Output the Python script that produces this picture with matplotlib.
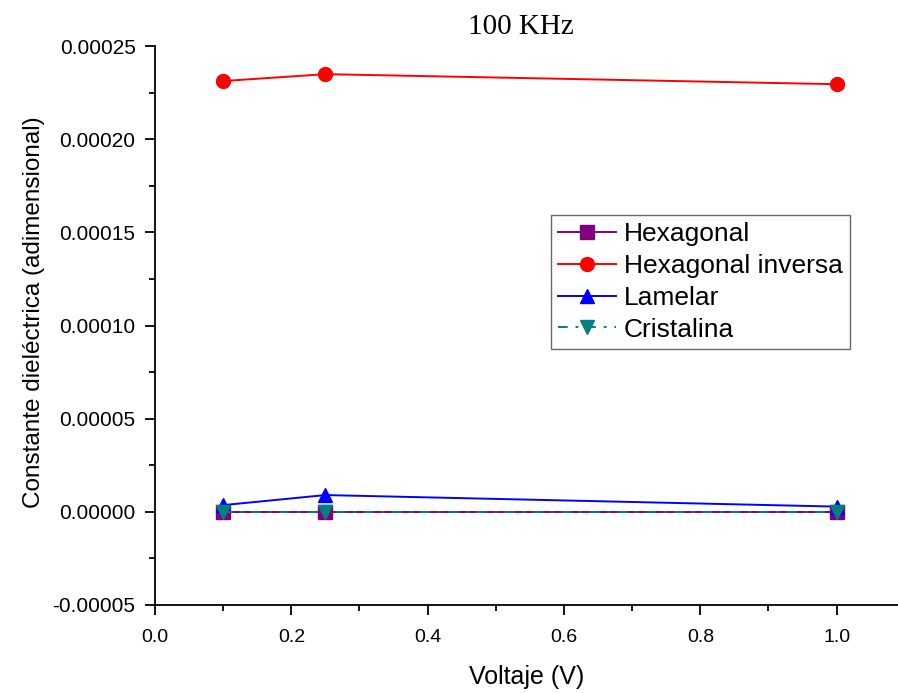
import matplotlib
matplotlib.use("Agg")
import matplotlib.pyplot as plt
from matplotlib.ticker import MultipleLocator, FormatStrFormatter

# Applied voltage (V)
voltaje = [0.1, 0.25, 1.0]

# Dielectric constant for each phase at 100 kHz
hexagonal = [0.0, 0.0, 0.0]
hexagonal_inversa = [0.0002312, 0.0002349, 0.0002295]
lamelar = [0.0000036, 0.0000090, 0.0000028]
cristalina = [0.0, 0.0, 0.0]

series_labels = ["Hexagonal", "Hexagonal inversa", "Lamelar", "Cristalina"]

plt.rcParams["font.family"] = ["Liberation Sans", "DejaVu Sans"]

fig = plt.figure(figsize=(8.98, 6.93), dpi=100)
ax = fig.add_axes([0.1726, 0.127, 0.8274, 0.8066])

lw = 1.4
ax.plot(voltaje, hexagonal, color="#800080", marker="s", markersize=10,
        linewidth=lw, label=series_labels[0], zorder=3)
ax.plot(voltaje, hexagonal_inversa, color="#ff0000", marker="o", markersize=10,
        linewidth=lw, label=series_labels[1], zorder=3)
ax.plot(voltaje, lamelar, color="#0000ff", marker="^", markersize=10,
        linewidth=lw, label=series_labels[2], zorder=3)
ax.plot(voltaje, cristalina, color="#008080", marker="v", markersize=10,
        linewidth=lw, linestyle=(0, (5, 4, 1.5, 4)), label=series_labels[3], zorder=4)

ax.set_xlim(0, 1.09)
ax.set_ylim(-0.00005, 0.00025)

ax.xaxis.set_major_locator(MultipleLocator(0.2))
ax.xaxis.set_minor_locator(MultipleLocator(0.1))
ax.xaxis.set_major_formatter(FormatStrFormatter("%.1f"))
ax.yaxis.set_major_locator(MultipleLocator(0.00005))
ax.yaxis.set_minor_locator(MultipleLocator(0.000025))
ax.yaxis.set_major_formatter(FormatStrFormatter("%.5f"))

for side in ("top", "right"):
    ax.spines[side].set_visible(False)
for side in ("left", "bottom"):
    ax.spines[side].set_linewidth(1.3)

ax.tick_params(which="major", direction="out", length=7, width=1.3)
ax.tick_params(which="minor", direction="out", length=4, width=1.3)
ax.tick_params(axis="x", which="major", labelsize=14, pad=10)
ax.tick_params(axis="y", which="major", labelsize=15, pad=7)

ax.set_xlabel("Voltaje (V)", fontsize=18, labelpad=14)
ax.set_ylabel("Constante dieléctrica (adimensional)", fontsize=17.5)
ax.yaxis.set_label_coords(-0.148, 0.524)
ax.set_title("100 KHz", fontsize=21, family=["Liberation Serif", "DejaVu Serif"],
             x=0.492, pad=9)

leg = ax.legend(loc="upper left", bbox_to_anchor=(0.533, 0.698), fontsize=19,
                frameon=True, fancybox=False, edgecolor="#444444",
                handlelength=2.2, labelspacing=0.3, borderpad=0.27,
                handletextpad=0.3, borderaxespad=0)
leg.get_frame().set_linewidth(1.0)

fig.savefig("out.png", dpi=100)
